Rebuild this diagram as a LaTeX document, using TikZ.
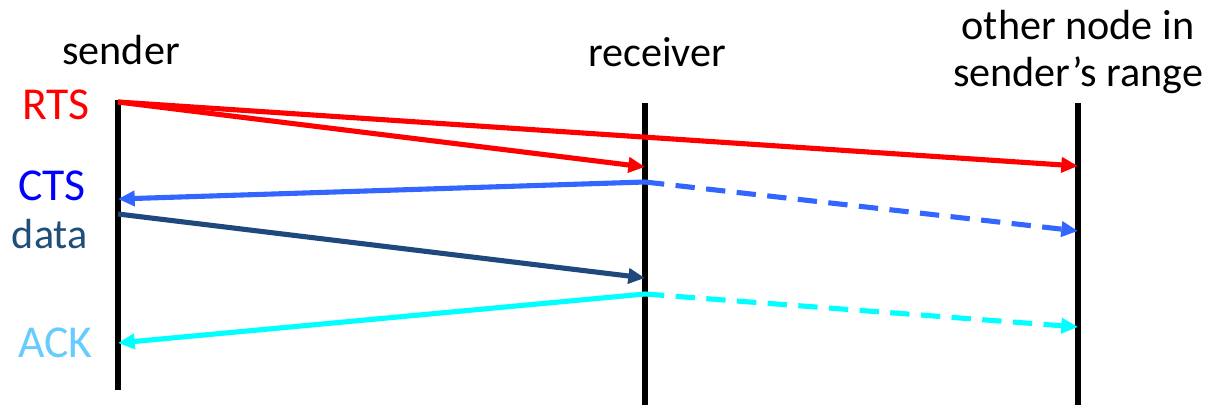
\documentclass[tikz,border=0pt]{standalone}
\usepackage{fontspec}
\setmainfont{Carlito}
\usepackage{tikz}
\usetikzlibrary{arrows.meta, positioning}
\definecolor{rtsred}{HTML}{FF0000}
\definecolor{ctsblue}{HTML}{0000FF}
\definecolor{ctsline}{HTML}{3366FF}
\definecolor{datablue}{HTML}{1F4E79}
\definecolor{dataline}{HTML}{1F487C}
\definecolor{acklabel}{HTML}{66CCFF}
\definecolor{ackline}{HTML}{00FFFF}
\tikzset{
  timeline/.style={line width=3pt, black},
  msg/.style={line width=2.9pt, -{Triangle[length=9.5pt,width=8.5pt]}},
  overheard/.style={msg, dash pattern=on 11pt off 6.5pt},
  lbl/.style={font=\fontsize{24}{29}\selectfont, inner sep=0pt},
  sidelbl/.style={font=\fontsize{26}{31}\selectfont, inner sep=0pt, anchor=east}
}

\begin{document}
\begin{tikzpicture}[x=0.02cm, y=-0.02cm]
    \useasboundingbox (0,0) rectangle (1214,405);

    % time lines
    \coordinate (s top) at (118,100);  \coordinate (s bot) at (118,390);
    \coordinate (r top) at (645,103);  \coordinate (r bot) at (645,405);
    \coordinate (o top) at (1078,103); \coordinate (o bot) at (1078,405);
    \draw[timeline] (s top) -- (s bot);
    \draw[timeline] (r top) -- (r bot);
    \draw[timeline] (o top) -- (o bot);

    \node[lbl] (sender) at (121,50) {sender};
    \node[lbl] (receiver) at (657,52) {receiver};
    \node[lbl, align=center] (other) at (1078,52) {other node in\\[-2pt]sender’s range};

    % message labels
    \node[sidelbl, text=rtsred] (rts) at (90,105) {RTS};
    \node[sidelbl, text=ctsblue] (cts) at (86,186) {CTS};
    \node[lbl, anchor=east, text=datablue] (data) at (88,234) {data};
    \node[sidelbl, text=acklabel] (ack) at (93,343) {ACK};

    % message end points
    \coordinate (rts s) at (118,102);
    \coordinate (rts r) at (645,167);
    \coordinate (rts o) at (1078,166);
    \coordinate (cts r) at (645,182);
    \coordinate (cts s) at (118,199);
    \coordinate (cts o) at (1078,231);
    \coordinate (data s) at (118,214);
    \coordinate (data r) at (645,278);
    \coordinate (ack r) at (645,294);
    \coordinate (ack s) at (118,343);
    \coordinate (ack o) at (1078,327);

    % RTS
    \draw[msg, rtsred] (rts s) -- (rts r);
    \draw[msg, rtsred] (rts s) -- (rts o);
    % CTS
    \draw[msg, ctsline] (cts r) -- (cts s);
    \draw[overheard, ctsline] (cts r) -- (cts o);
    % data
    \draw[msg, dataline] (data s) -- (data r);
    % ACK
    \draw[msg, ackline] (ack r) -- (ack s);
    \draw[overheard, ackline] (ack r) -- (ack o);
\end{tikzpicture}
\end{document}
